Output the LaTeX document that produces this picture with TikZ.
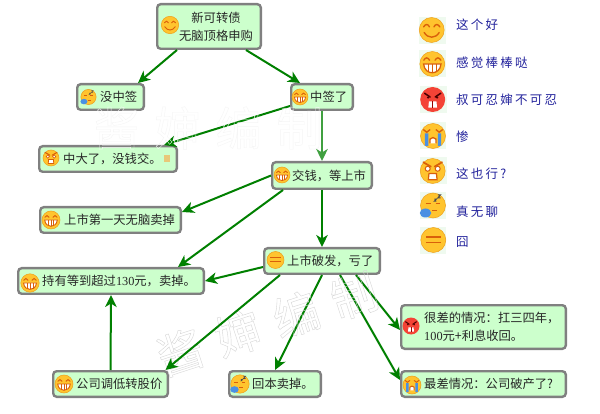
\documentclass[tikz,border=0pt]{standalone}
\usepackage{fontspec}
\usetikzlibrary{arrows.meta,calc}
\setmainfont{Noto Sans CJK SC}
\newfontfamily\serdigits{Liberation Serif}
\newfontfamily\legfont[LetterSpace=18]{Noto Sans CJK SC}
\definecolor{boxfill}{HTML}{CCFFCC}
\definecolor{boxline}{HTML}{808080}
\definecolor{arrowgreen}{HTML}{008000}
\definecolor{paleline}{HTML}{40A040}
\definecolor{faceY}{HTML}{FFC42E}
\definecolor{faceE}{HTML}{EE9F1C}
\definecolor{faceR}{HTML}{F44336}
\definecolor{lineO}{HTML}{D9600A}
\definecolor{tearB}{HTML}{4A90E2}
\definecolor{legendblue}{HTML}{22229C}
\definecolor{legendbg}{HTML}{EFFAEF}
\definecolor{notetan}{HTML}{E8C878}
\newcommand{\flw}{1}
\newcommand{\outlinetext}[1]{\special{pdf:code 1 Tr 0.4 w}#1\special{pdf:code 0 Tr}}
\tikzset{
  box/.style 2 args={draw=boxline,fill=boxfill,line width=2.4pt,rounded corners=3.5pt,
    minimum width=#1-2.4pt,minimum height=#2-2.4pt,text width=#1-8.4pt,inner xsep=3pt,inner ysep=0pt,
    align=left,font=\fontsize{12.3}{18}\selectfont,text=black!85,anchor=north west},
  link/.style={draw=arrowgreen,line width=2pt,-{Stealth[length=12pt,width=11.5pt,inset=3.5pt]}},
  legendtext/.style={anchor=west,inner sep=0pt,text=legendblue,font=\fontsize{12.5}{14}\legfont},
  legendback/.style={fill=legendbg,draw=none},
  fs/.code={\renewcommand{\flw}{#1}\tikzset{scale=#1}},
  wmark/.style={inner sep=0pt,text=black!16,font=\fontsize{46}{46}\selectfont},
  smileface/.pic={
    \fill[faceY,draw=faceE,line width=.5pt] (0,0) circle (10);
    \draw[lineO,line width={\flw*1.1pt},line cap=round]
      (-6.5,2.5) .. controls (-5,5) and (-3,5) .. (-1.8,2.5)
      (1.8,2.5) .. controls (3,5) and (5,5) .. (6.5,2.5)
      (-6,-2) .. controls (-3,-7) and (3,-7) .. (6,-2);},
  grinface/.pic={
    \fill[faceY,draw=faceE,line width=.5pt] (0,0) circle (10);
    \draw[lineO,line width={\flw*1.1pt},line cap=round]
      (-6.8,3) .. controls (-5.5,5.5) and (-3.5,5.5) .. (-2.2,3)
      (2.2,3) .. controls (3.5,5.5) and (5.5,5.5) .. (6.8,3);
    \fill[white,draw=lineO,line width={\flw*1pt}] (-7,0) -- (7,0) .. controls (6.5,-5) and (3,-7) .. (0,-7) .. controls (-3,-7) and (-6.5,-5) .. (-7,0) -- cycle;
    \draw[lineO,line width={\flw*.5pt}] (-3,0) -- (-3,-6.4) (0,0) -- (0,-7) (3,0) -- (3,-6.4);},
  angryface/.pic={
    \fill[faceR] (0,0) circle (10);
    \draw[black!70!red,line width={\flw*1.2pt},line cap=round] (-6.5,5) -- (-2,2) (6.5,5) -- (2,2);
    \fill[black!70!red] (-3.6,1.6) circle (1) (3.6,1.6) circle (1);
    \fill[white] (-3,-1.5) -- (3,-1.5) -- (3.5,-6.5) -- (-3.5,-6.5) -- cycle;
    \draw[black!40!red,line width={\flw*.4pt}] (0,-1.5) -- (0,-6.5);},
  cryface/.pic={
    \fill[faceY,draw=faceE,line width=.5pt] (0,0) circle (10);
    \fill[tearB] (-6.5,2) rectangle (-3.8,-8) (3.8,2) rectangle (6.5,-8);
    \draw[lineO,line width={\flw*1.1pt},line cap=round]
      (-7.5,5) -- (-5,3) -- (-2.5,5) (7.5,5) -- (5,3) -- (2.5,5);
    \draw[lineO,line width={\flw*1.1pt},fill=white] (-2.4,-6) -- (-2.4,-2.5) .. controls (-1,-.8) and (1,-.8) .. (2.4,-2.5) -- (2.4,-6);},
  shockface/.pic={
    \fill[faceY,draw=faceE,line width=.5pt] (0,0) circle (10);
    \draw[lineO,line width={\flw*1.4pt},line cap=round] (-7.5,7) -- (-1.5,3.5) (7.5,7) -- (1.5,3.5);
    \fill[white,draw=lineO,line width={\flw*.8pt}] (-4,1.8) circle (2) (4,1.8) circle (2);
    \fill[white,draw=lineO,line width={\flw*1pt}] (-3,-2) -- (3,-2) -- (3.5,-7) -- (-3.5,-7) -- cycle;},
  sleepface/.pic={
    \fill[faceY,draw=faceE,line width=.5pt] (0,0) circle (10);
    \draw[lineO,line width={\flw*1.1pt}] (-6,1.5) -- (-2,1.5) (2,1.5) -- (5.5,1.5) (-1,-4) -- (3,-4);
    \draw[black!70,line width={\flw*.8pt}] (1,5) -- (2.6,5) -- (1,3.4) -- (2.6,3.4) (3.8,8.4) -- (6,8.4) -- (3.8,6) -- (6,6);
    \fill[tearB] (-6,-6) ellipse (4.6 and 3.6);},
  neutralface/.pic={
    \fill[faceY,draw=faceE,line width=.5pt] (0,0) circle (10);
    \draw[lineO,line width={\flw*1.1pt}] (-6,2.5) -- (6,2.5) (-6,-1.8) -- (6,-1.8);},
}
\begin{document}
\begin{tikzpicture}[x=1pt,y=1pt]
\useasboundingbox[fill=white] (0,0) rectangle (600,-414);

% flow boxes
\node[box={106pt}{47pt},align=center] (root) at (156,-3) {\hspace*{14pt}新可转债\\\hspace*{14pt}无脑顶格申购};
\node[box={69pt}{28pt}] (mei) at (76,-83) {\hspace*{20pt}没中签};
\node[box={64pt}{28pt}] (zhong) at (290,-83) {\hspace*{16pt}中签了};
\node[box={140pt}{28pt}] (da) at (38,-145) {\hspace*{21pt}中大了，没钱交。};
\node[box={102pt}{29pt}] (jiao) at (271,-161) {\hspace*{17pt}交钱，等上市};
\node[box={143pt}{28pt}] (shangshi) at (39,-206) {\hspace*{21pt}上市第一天无脑卖掉};
\node[box={188pt}{28pt}] (chiyou) at (17,-267) {\hspace*{21pt}持有等到超过{\serdigits 130}元，卖掉。};
\node[box={118pt}{28pt}] (pofa) at (263,-247) {\hspace*{20pt}上市破发，亏了};
\node[box={117pt}{28pt}] (tiao) at (52,-370) {\hspace*{20pt}公司调低转股价};
\node[box={94pt}{28pt}] (huiben) at (228,-370) {\hspace*{20pt}回本卖掉。};
\node[box={167pt}{46pt}] (hen) at (400,-304) {\hspace*{20pt}很差的情况：扛三四年，\\\hspace*{20pt}{\serdigits 100}元+利息收回。};
\node[box={167pt}{28pt}] (zui) at (400,-370) {\hspace*{20pt}最差情况：公司破产了?};

% small note mark after the text
\fill[notetan] (164,-155) rectangle (170,-162);

% connectors
\draw[link] ([xshift=-32pt]root.south) -- ([xshift=27.5pt]mei.north);
\draw[link] ([xshift=37pt]root.south) -- ([xshift=-22pt]zhong.north);
\draw[link] ([yshift=-9pt]zhong.west) -- ([xshift=56pt]da.north);
\draw[link,draw=paleline] (zhong.south) -- (jiao.north);
\draw[link] (jiao.west) -- ([yshift=8pt]shangshi.east);
\draw[link] ([xshift=-39pt]jiao.south) -- ([xshift=67pt]chiyou.north);
\draw[link] (jiao.south) -- (pofa.north);
\draw[link] ([yshift=-6pt]pofa.west) -- (chiyou.east);
\draw[link] (tiao.north) -- (chiyou.south);
\draw[link] (pofa.south) -- (huiben.north);
\draw[link] ([xshift=18pt]pofa.south) -- ([yshift=-10pt]zui.north west);
\draw[link] ([xshift=34pt]pofa.south) -- ([yshift=-3pt]hen.west);

% emoji in boxes
\pic[fs=.87] at (170,-25) {smileface};
\pic[fs=.76] at (88.5,-97) {sleepface};
\pic[fs=.8] at (300,-97) {grinface};
\pic[fs=.8] at (51,-158) {shockface};
\pic[fs=.8] at (282,-175) {grinface};
\pic[fs=.9] at (51,-220) {grinface};
\pic[fs=.92] at (30,-283) {grinface};
\pic[fs=.85] at (275.5,-260) {neutralface};
\pic[fs=.9] at (64,-384) {grinface};
\pic[fs=.92] at (240,-384) {sleepface};
\pic[fs=.85] at (411,-326) {angryface};
\pic[fs=.9] at (412,-385) {cryface};

% legend
\fill[legendback] (418.5,-17) rectangle +(27,-27);
\fill[legendback] (419,-50.5) rectangle +(27,-27);
\fill[legendback] (419.5,-86) rectangle +(27,-27);
\fill[legendback] (420,-122) rectangle +(26,-27);
\fill[legendback] (419.5,-157.5) rectangle +(27,-27);
\fill[legendback] (420,-192.5) rectangle +(26,-27);
\fill[legendback] (420,-227) rectangle +(26,-27);
\pic[fs=1.25] at (431.7,-30) {smileface};
\pic[fs=1.25] at (432.3,-64) {grinface};
\pic[fs=1.25] at (432.7,-99.5) {angryface};
\pic[fs=1.25] at (433,-136) {cryface};
\pic[fs=1.25] at (432.7,-171) {shockface};
\pic[fs=1.25] at (433,-205.5) {sleepface};
\pic[fs=1.25] at (433.3,-240) {neutralface};
\node[legendtext] (l1) at (456,-25) {这个好};
\node[legendtext] (l2) at (456,-63) {感觉棒棒哒};
\node[legendtext] (l3) at (456,-100) {叔可忍婶不可忍};
\node[legendtext] (l4) at (456,-137) {惨};
\node[legendtext] (l5) at (456,-174) {这也行?};
\node[legendtext] (l6) at (456,-212) {真无聊};
\node[legendtext] (l7) at (456,-242) {囧};

% watermarks
\node[wmark,text=black!4] (w1) at (208,-128) {\outlinetext{酱\hspace{15pt}婶\hspace{15pt}编\hspace{15pt}制}};
\node[wmark,rotate=18] (w2) at (267,-324) {\outlinetext{酱\hspace{15pt}婶\hspace{15pt}编\hspace{15pt}制}};
\draw[link] ([xshift=-42pt]pofa.south) -- ([xshift=55pt]tiao.north);
\end{tikzpicture}
\end{document}
